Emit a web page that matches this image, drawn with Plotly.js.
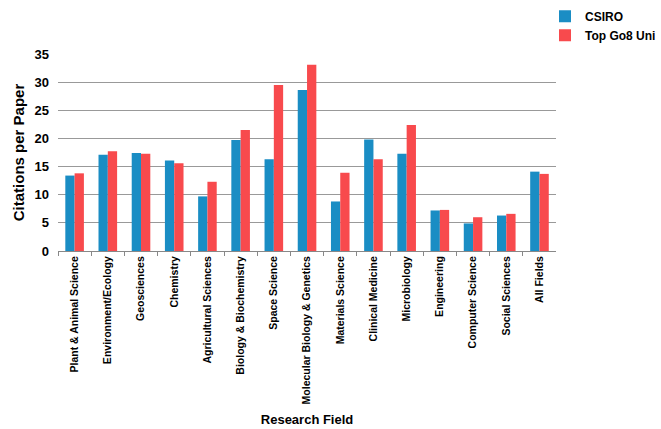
<!DOCTYPE html>
<html><head><meta charset="utf-8">
<script src="https://cdn.plot.ly/plotly-3.0.1.min.js"></script>
<style>html,body{margin:0;padding:0;background:#fff}#c{width:661px;height:429px}</style>
</head><body><div id="c"></div>
<script>
const categories = ["Plant & Animal Science","Environment/Ecology","Geosciences","Chemistry","Agricultural Sciences","Biology & Biochemistry","Space Science","Molecular Biology & Genetics","Materials Science","Clinical Medicine","Microbiology","Engineering","Computer Science","Social Sciences","All Fields"];
const csiro = [13.4,17.1,17.4,16.1,9.7,19.7,16.3,28.6,8.8,19.8,17.3,7.2,4.9,6.3,14.1];
const go8 = [13.8,17.7,17.3,15.6,12.3,21.5,29.5,33.1,13.9,16.3,22.4,7.3,6.0,6.6,13.7];
const yTicks = [0,5,10,15,20,25,30,35];

const F = "Liberation Sans, Arial, sans-serif";
const data = [
  {type:"bar", name:"CSIRO", x:categories, y:csiro, marker:{color:"#1a8dc4"}},
  {type:"bar", name:"Top Go8 Uni", x:categories, y:go8, marker:{color:"#f84a4d"}}
];
const layout = {
  width:661, height:429,
  margin:{l:58, r:0, t:54, b:178},
  paper_bgcolor:"#fff", plot_bgcolor:"#fff",
  barmode:"group", bargap:0.44, bargroupgap:0,
  font:{family:F, color:"#000"},
  showlegend:true,
  legend:{x:0.808, y:1.265, xanchor:"left", yanchor:"top", font:{size:12, family:F, weight:"bold"}, tracegroupgap:0, bgcolor:"rgba(0,0,0,0)"},
  xaxis:{
    domain:[0, 0.826],
    tickangle:-90, tickfont:{size:10.5, family:F, weight:"bold"},
    ticks:"outside", tickson:"boundaries", ticklen:4, tickcolor:"#888",
    showline:true, linecolor:"#888", linewidth:1,
    title:{text:"Research Field", font:{size:13, family:F, weight:"bold"}, standoff:11},
    automargin:false
  },
  yaxis:{
    range:[0,35], tickvals:yTicks, ticktext:yTicks.map(String),
    tickfont:{size:13, family:F, weight:"bold"}, ticklabelstandoff:8,
    showgrid:true, gridcolor:"#999", gridwidth:1,
    zeroline:false, showline:false, ticks:"", 
    title:{text:"Citations per Paper", font:{size:15, family:F, weight:"bold"}, standoff:6},
    automargin:false
  }
};
Plotly.newPlot("c", data, layout, {displayModeBar:false, staticPlot:true});
</script></body></html>
